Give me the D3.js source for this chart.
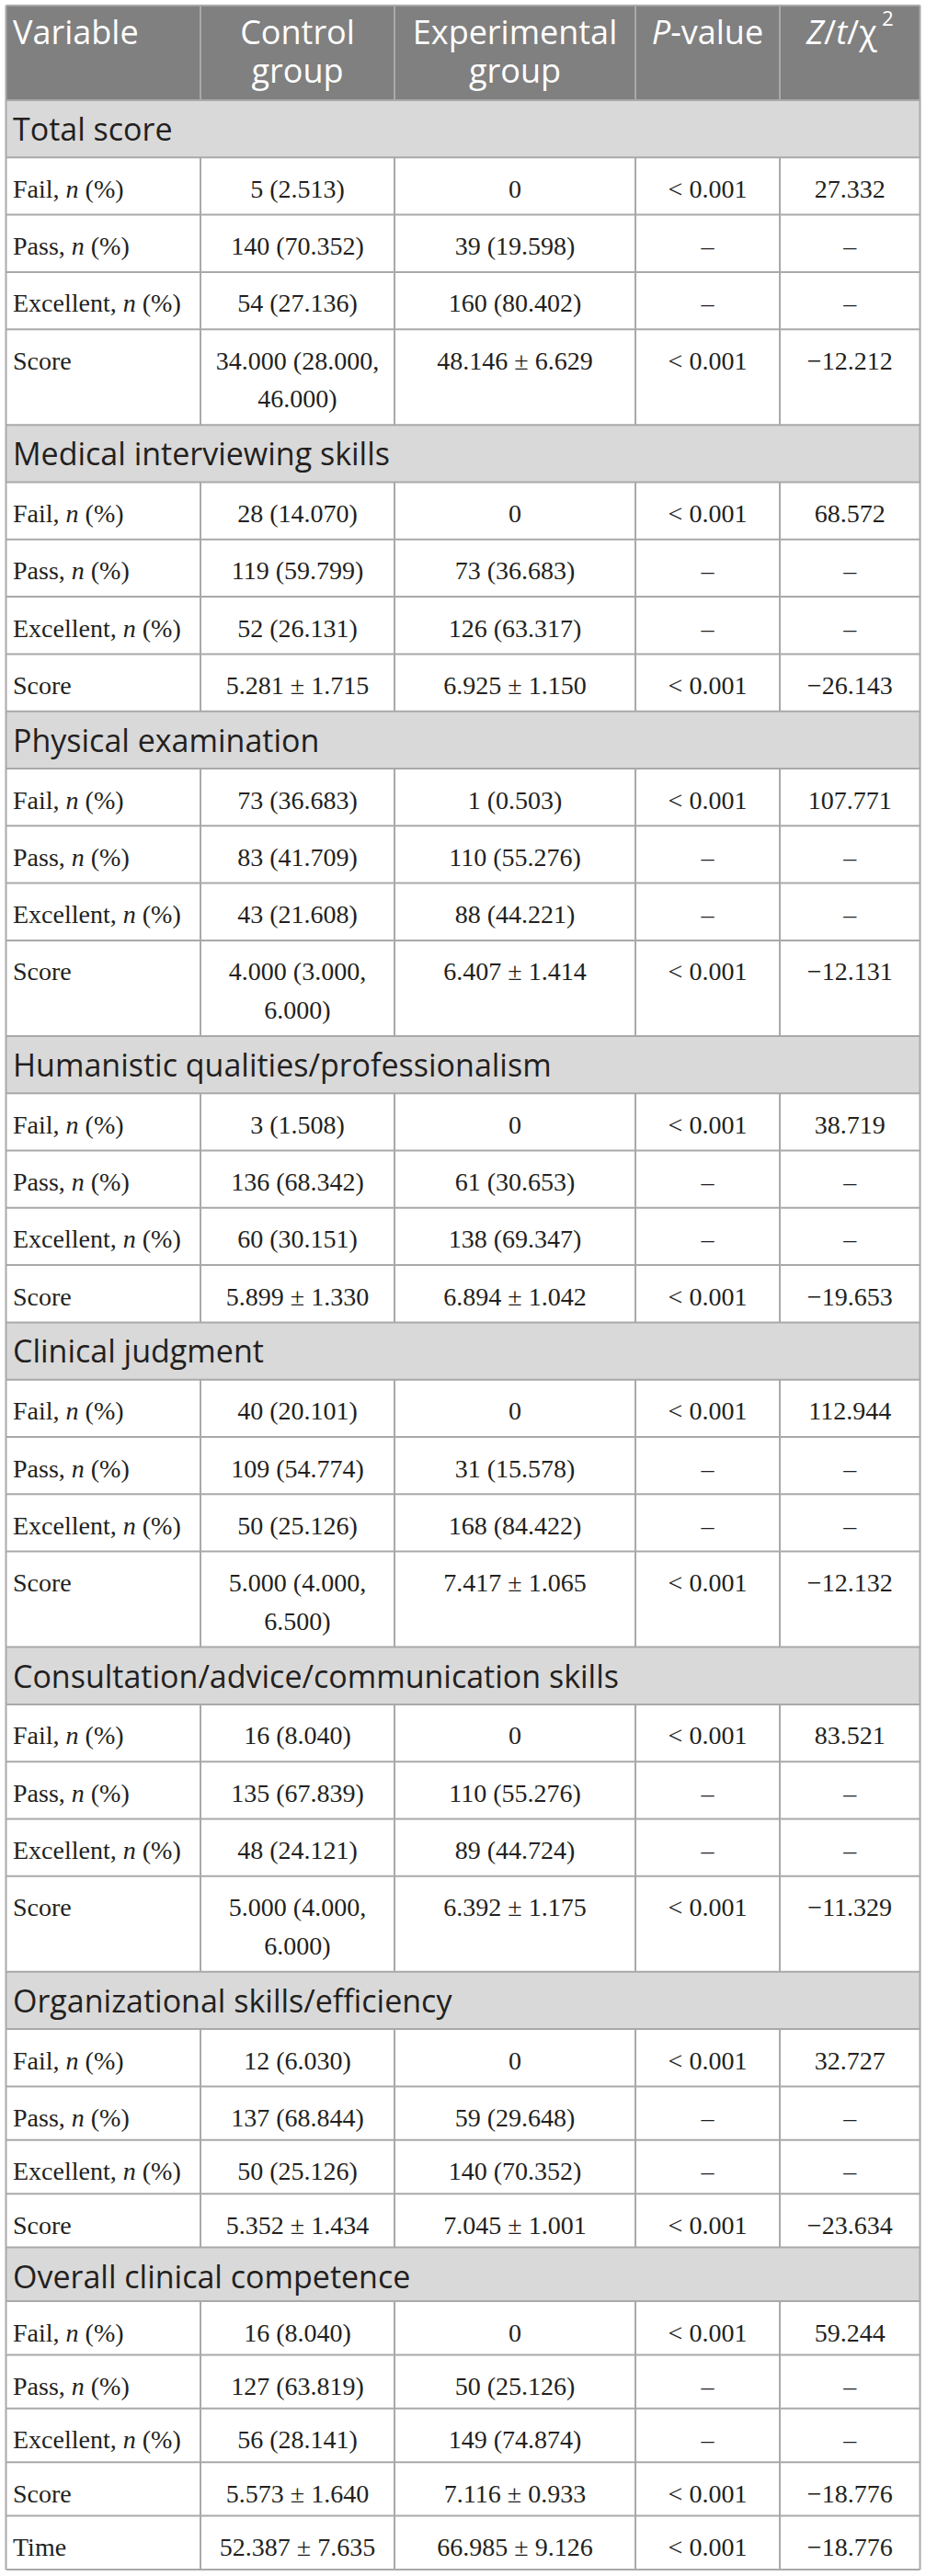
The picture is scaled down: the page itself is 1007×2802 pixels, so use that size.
<!DOCTYPE html>
<html><head><meta charset="utf-8">
<script src="https://cdn.jsdelivr.net/npm/d3@7"></script>
<style>body{margin:0;background:#fff}</style>
</head><body><script>
// ---------------- DATA ----------------
const headerLines = [
  ["Variable"],
  ["Control", "group"],
  ["Experimental", "group"],
  ["*P*-value"],
  ["*Z*/*t*/χ^2"]
];
const sections = [
  "Total score",
  "Medical interviewing skills",
  "Physical examination",
  "Humanistic qualities/professionalism",
  "Clinical judgment",
  "Consultation/advice/communication skills",
  "Organizational skills/efficiency",
  "Overall clinical competence"
];
const baseLabels = ["Fail, *n* (%)", "Pass, *n* (%)", "Excellent, *n* (%)", "Score"];
const rowLabels = [
  baseLabels, baseLabels, baseLabels, baseLabels,
  baseLabels, baseLabels, baseLabels,
  baseLabels.concat(["Time"])
];
const controlGroup = [
  ["5 (2.513)", "140 (70.352)", "54 (27.136)", "34.000 (28.000, 46.000)"],
  ["28 (14.070)", "119 (59.799)", "52 (26.131)", "5.281 ± 1.715"],
  ["73 (36.683)", "83 (41.709)", "43 (21.608)", "4.000 (3.000, 6.000)"],
  ["3 (1.508)", "136 (68.342)", "60 (30.151)", "5.899 ± 1.330"],
  ["40 (20.101)", "109 (54.774)", "50 (25.126)", "5.000 (4.000, 6.500)"],
  ["16 (8.040)", "135 (67.839)", "48 (24.121)", "5.000 (4.000, 6.000)"],
  ["12 (6.030)", "137 (68.844)", "50 (25.126)", "5.352 ± 1.434"],
  ["16 (8.040)", "127 (63.819)", "56 (28.141)", "5.573 ± 1.640", "52.387 ± 7.635"]
];
const experimentalGroup = [
  ["0", "39 (19.598)", "160 (80.402)", "48.146 ± 6.629"],
  ["0", "73 (36.683)", "126 (63.317)", "6.925 ± 1.150"],
  ["1 (0.503)", "110 (55.276)", "88 (44.221)", "6.407 ± 1.414"],
  ["0", "61 (30.653)", "138 (69.347)", "6.894 ± 1.042"],
  ["0", "31 (15.578)", "168 (84.422)", "7.417 ± 1.065"],
  ["0", "110 (55.276)", "89 (44.724)", "6.392 ± 1.175"],
  ["0", "59 (29.648)", "140 (70.352)", "7.045 ± 1.001"],
  ["0", "50 (25.126)", "149 (74.874)", "7.116 ± 0.933", "66.985 ± 9.126"]
];
const basePValues = ["< 0.001", "–", "–", "< 0.001"];
const pValues = [
  basePValues, basePValues, basePValues, basePValues,
  basePValues, basePValues, basePValues,
  basePValues.concat(["< 0.001"])
];
const testStats = [
  ["27.332", "–", "–", "−12.212"],
  ["68.572", "–", "–", "−26.143"],
  ["107.771", "–", "–", "−12.131"],
  ["38.719", "–", "–", "−19.653"],
  ["112.944", "–", "–", "−12.132"],
  ["83.521", "–", "–", "−11.329"],
  ["32.727", "–", "–", "−23.634"],
  ["59.244", "–", "–", "−18.776", "−18.776"]
];

// ---------------- LAYOUT ----------------
const W = 1007, H = 2802;
const colEdges = [6.5, 218, 429, 691, 848, 1000.5];
const top0 = 6;
const headerH = 103;
const pitch = 62.3, pitchTight = 58.4, lineStep = 41.7;
const sansFont = "'Open Sans', 'Noto Sans', sans-serif";
const serifFont = "'Liberation Serif', 'DejaVu Serif', serif";
const ink = "#231f20";
const borderColor = "#a9a9a9";

const svg = d3.select("body").append("svg")
  .attr("width", W).attr("height", H)
  .style("display", "block");

const bgLayer = svg.append("g");
const textLayer = svg.append("g");
const lineLayer = svg.append("g");

// measurement helper
const meas = svg.append("text").attr("font-family", serifFont).attr("font-size", 28)
  .attr("visibility", "hidden");
function textW(str) { meas.text(str); return meas.node().getComputedTextLength(); }
function wrap(str, maxW) {
  const words = str.split(" ");
  const lines = [];
  let cur = "";
  words.forEach(w => {
    const t = cur ? cur + " " + w : w;
    if (cur && textW(t) > maxW) { lines.push(cur); cur = w; }
    else cur = t;
  });
  if (cur) lines.push(cur);
  return lines;
}

// build rows
const rows = [{type: "header"}];
sections.forEach((name, s) => {
  rows.push({type: "section", name, s});
  rowLabels[s].forEach((lab, r) => {
    rows.push({type: "data", s, r,
      cells: [lab, controlGroup[s][r], experimentalGroup[s][r], pValues[s][r], testStats[s][r]]});
  });
});
const tightStart = rows.findIndex(d => d.type === "data" && d.s === 6 && d.r === 1);

let yCur = top0;
rows.forEach((d, i) => {
  const p = i >= tightStart ? pitchTight : pitch;
  d.y0 = yCur;
  if (d.type === "header") d.h = headerH;
  else if (d.type === "section") d.h = p;
  else {
    d.lines = d.cells.map((c, j) => j === 0 ? [c] : wrap(c, colEdges[j + 1] - colEdges[j] - 14));
    const n = d3.max(d.lines, l => l.length);
    d.h = p + (n - 1) * lineStep;
  }
  yCur += d.h;
  d.y1 = yCur;
});
const tableBottom = yCur;

// markup: *italic*, ^superscript
function addRich(sel, str, fontSize) {
  const parts = str.split(/(\*[^*]+\*|\^\S+)/).filter(s => s.length);
  let raised = false;
  parts.forEach(p => {
    if (p.startsWith("*")) {
      sel.append("tspan").attr("font-style", "italic").text(p.slice(1, -1));
    } else if (p.startsWith("^")) {
      sel.append("tspan").attr("font-size", fontSize * 0.62).attr("dx", 5).attr("dy", -fontSize * 0.55).text(p.slice(1));
      raised = true;
    } else {
      const t = sel.append("tspan").text(p);
      if (raised) { t.attr("dy", fontSize * 0.55); raised = false; }
    }
  });
}

// multi-line text in one element
function multiText(x, y, lines, step, anchor, family, size, fill, rich) {
  const t = textLayer.append("text")
    .attr("x", x).attr("y", y)
    .attr("text-anchor", anchor)
    .attr("font-family", family).attr("font-size", size)
    .attr("fill", fill);
  lines.forEach((ln, k) => {
    const line = t.append("tspan").attr("x", x).attr("y", y + k * step);
    if (rich) addRich(line, ln, size); else line.text(ln);
  });
  return t;
}

// backgrounds
rows.forEach(d => {
  if (d.type === "header" || d.type === "section") {
    bgLayer.append("rect").attr("x", colEdges[0]).attr("y", d.y0)
      .attr("width", colEdges[5] - colEdges[0]).attr("height", d.h)
      .attr("fill", d.type === "header" ? "#808080" : "#d9d9d9");
  }
});

// texts
const padL = 7.5;
function colX(j) { return j === 0 ? colEdges[0] + padL : (colEdges[j] + colEdges[j + 1]) / 2; }
rows.forEach(d => {
  if (d.type === "header") {
    headerLines.forEach((lines, j) => {
      multiText(colX(j), d.y0 + 42, lines, 42, j === 0 ? "start" : "middle",
        sansFont, 36, "#ffffff", true);
    });
  } else if (d.type === "section") {
    textLayer.append("text")
      .attr("x", colEdges[0] + padL).attr("y", d.y0 + 44)
      .attr("font-family", sansFont).attr("font-size", 34)
      .attr("fill", ink).text(d.name);
  } else {
    d.lines.forEach((lines, j) => {
      multiText(colX(j), d.y0 + 43.5, lines, lineStep, j === 0 ? "start" : "middle",
        serifFont, 28, ink, j === 0);
    });
  }
});

// borders
rows.forEach(d => {
  lineLayer.append("line").attr("x1", colEdges[0]).attr("x2", colEdges[5])
    .attr("y1", d.y0).attr("y2", d.y0);
  if (d.type !== "section") {
    colEdges.slice(1, 5).forEach(xe => {
      lineLayer.append("line").attr("x1", xe).attr("x2", xe).attr("y1", d.y0).attr("y2", d.y1);
    });
  }
});
lineLayer.append("line").attr("x1", colEdges[0]).attr("x2", colEdges[5])
  .attr("y1", tableBottom).attr("y2", tableBottom);
[colEdges[0], colEdges[5]].forEach(xe => {
  lineLayer.append("line").attr("x1", xe).attr("x2", xe).attr("y1", top0).attr("y2", tableBottom);
});
lineLayer.selectAll("line").attr("stroke", borderColor).attr("stroke-width", 2);
meas.remove();
</script></body></html>
